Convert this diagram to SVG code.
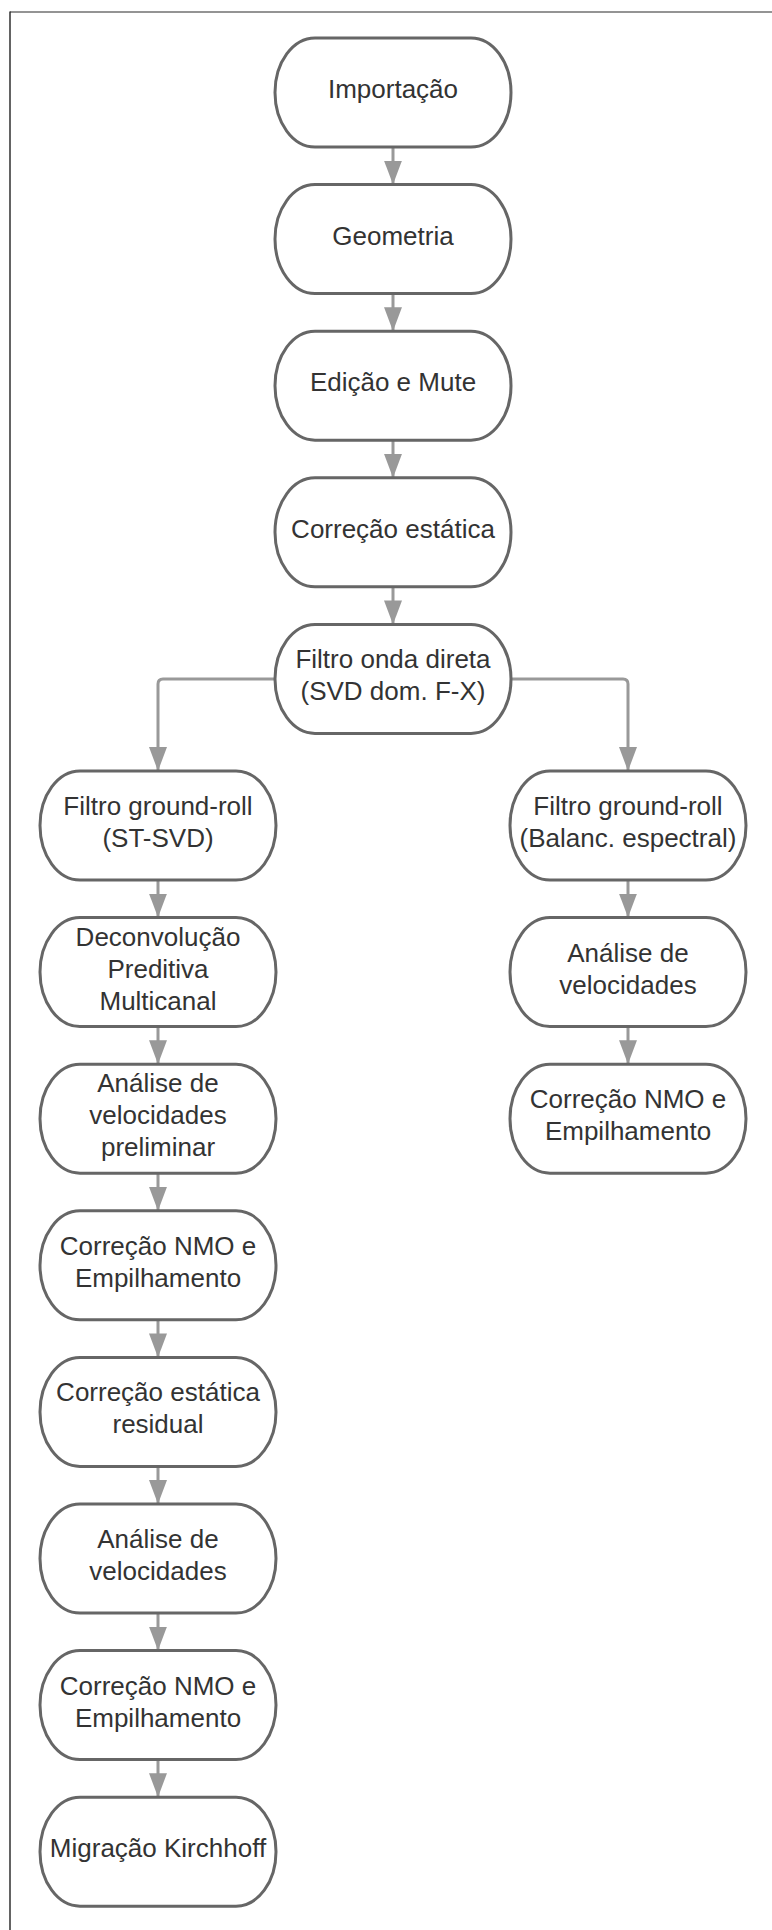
<svg xmlns="http://www.w3.org/2000/svg" width="772" height="1930" viewBox="0 0 772 1930">
<style>
.n{fill:#fff;stroke:#666;stroke-width:3}
.t{font-family:"Liberation Sans",Arial,sans-serif;font-size:26px;fill:#333;text-anchor:middle}
.c{fill:none;stroke:#999;stroke-width:3}
</style>
<defs>
<marker id="ah" markerUnits="userSpaceOnUse" markerWidth="24" markerHeight="18" refX="24" refY="9" orient="auto">
<path d="M0,0 L24,9 L0,18 z" fill="#999"/>
</marker>
</defs>
<rect width="772" height="1930" fill="#fff"/>
<line x1="10" y1="12" x2="772" y2="12" stroke="#707070" stroke-width="1.6"/>
<line x1="10" y1="11.5" x2="10" y2="1930" stroke="#222" stroke-width="1.4"/>
<g id="connectors">
<path class="c" d="M393,147 V184.6" marker-end="url(#ah)"/>
<path class="c" d="M393,293.6 V331.2" marker-end="url(#ah)"/>
<path class="c" d="M393,440.2 V477.8" marker-end="url(#ah)"/>
<path class="c" d="M393,586.8 V624.4" marker-end="url(#ah)"/>
<path class="c" d="M275,678.9 H163 Q158,678.9 158,683.9 V771" marker-end="url(#ah)"/>
<path class="c" d="M511,678.9 H623 Q628,678.9 628,683.9 V771" marker-end="url(#ah)"/>
<path class="c" d="M628,880 V917.6" marker-end="url(#ah)"/>
<path class="c" d="M628,1026.6 V1064.2" marker-end="url(#ah)"/>
<path class="c" d="M158,880 V917.6" marker-end="url(#ah)"/>
<path class="c" d="M158,1026.6 V1064.2" marker-end="url(#ah)"/>
<path class="c" d="M158,1173.2 V1210.8" marker-end="url(#ah)"/>
<path class="c" d="M158,1319.8 V1357.4" marker-end="url(#ah)"/>
<path class="c" d="M158,1466.4 V1504" marker-end="url(#ah)"/>
<path class="c" d="M158,1613 V1650.6" marker-end="url(#ah)"/>
<path class="c" d="M158,1759.6 V1797.2" marker-end="url(#ah)"/>
</g>
<g id="n1"><rect class="n" x="275" y="38" width="236" height="109" rx="40" ry="54.5"/><text class="t" x="393" y="98">Importação</text></g>
<g id="n2"><rect class="n" x="275" y="184.6" width="236" height="109" rx="40" ry="54.5"/><text class="t" x="393" y="244.6">Geometria</text></g>
<g id="n3"><rect class="n" x="275" y="331.2" width="236" height="109" rx="40" ry="54.5"/><text class="t" x="393" y="391.2">Edição e Mute</text></g>
<g id="n4"><rect class="n" x="275" y="477.8" width="236" height="109" rx="40" ry="54.5"/><text class="t" x="393" y="537.8">Correção estática</text></g>
<g id="n5"><rect class="n" x="275" y="624.4" width="236" height="109" rx="40" ry="54.5"/><text class="t" x="393" y="668.4">Filtro onda direta</text><text class="t" x="393" y="700.4">(SVD dom. F-X)</text></g>
<g id="n6"><rect class="n" x="40" y="771" width="236" height="109" rx="40" ry="54.5"/><text class="t" x="158" y="815">Filtro ground-roll</text><text class="t" x="158" y="847">(ST-SVD)</text></g>
<g id="n7"><rect class="n" x="510" y="771" width="236" height="109" rx="40" ry="54.5"/><text class="t" x="628" y="815">Filtro ground-roll</text><text class="t" x="628" y="847">(Balanc. espectral)</text></g>
<g id="n8"><rect class="n" x="40" y="917.6" width="236" height="109" rx="40" ry="54.5"/><text class="t" x="158" y="945.6">Deconvolução</text><text class="t" x="158" y="977.6">Preditiva</text><text class="t" x="158" y="1009.6">Multicanal</text></g>
<g id="n9"><rect class="n" x="510" y="917.6" width="236" height="109" rx="40" ry="54.5"/><text class="t" x="628" y="961.6">Análise de</text><text class="t" x="628" y="993.6">velocidades</text></g>
<g id="n10"><rect class="n" x="40" y="1064.2" width="236" height="109" rx="40" ry="54.5"/><text class="t" x="158" y="1092.2">Análise de</text><text class="t" x="158" y="1124.2">velocidades</text><text class="t" x="158" y="1156.2">preliminar</text></g>
<g id="n11"><rect class="n" x="510" y="1064.2" width="236" height="109" rx="40" ry="54.5"/><text class="t" x="628" y="1108.2">Correção NMO e</text><text class="t" x="628" y="1140.2">Empilhamento</text></g>
<g id="n12"><rect class="n" x="40" y="1210.8" width="236" height="109" rx="40" ry="54.5"/><text class="t" x="158" y="1254.8">Correção NMO e</text><text class="t" x="158" y="1286.8">Empilhamento</text></g>
<g id="n13"><rect class="n" x="40" y="1357.4" width="236" height="109" rx="40" ry="54.5"/><text class="t" x="158" y="1401.4">Correção estática</text><text class="t" x="158" y="1433.4">residual</text></g>
<g id="n14"><rect class="n" x="40" y="1504" width="236" height="109" rx="40" ry="54.5"/><text class="t" x="158" y="1548">Análise de</text><text class="t" x="158" y="1580">velocidades</text></g>
<g id="n15"><rect class="n" x="40" y="1650.6" width="236" height="109" rx="40" ry="54.5"/><text class="t" x="158" y="1694.6">Correção NMO e</text><text class="t" x="158" y="1726.6">Empilhamento</text></g>
<g id="n16"><rect class="n" x="40" y="1797.2" width="236" height="109" rx="40" ry="54.5"/><text class="t" x="158" y="1857.2">Migração Kirchhoff</text></g>
</svg>
